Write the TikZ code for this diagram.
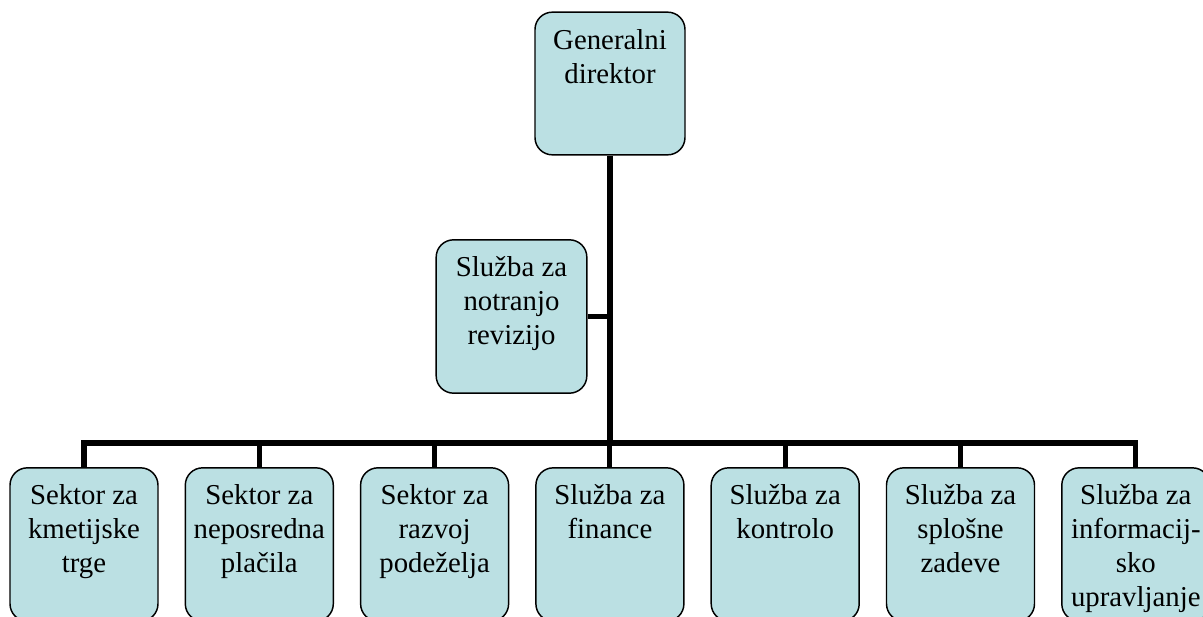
\documentclass[tikz,border=0pt]{standalone}
\usepackage{fontspec}
\setmainfont{LiberationSerif}[Extension=.ttf,UprightFont=*-Regular]
\definecolor{boxfill}{HTML}{BBE0E3}
\begin{document}
\begin{tikzpicture}[x=0.75pt,y=-0.75pt,
  unitbox/.style={draw=black,line width=1.1pt,fill=boxfill,rounded corners=13pt,
    minimum width=111pt,inner sep=0pt},
  unittext/.style={anchor=north,inner sep=0pt,align=center,
    font=\fontsize{21.6pt}{25.5pt}\selectfont},
  link/.style={line width=3.8pt,draw=black}]
\clip (0,0) rectangle (1203,617);
\useasboundingbox (0,0) rectangle (1203,617);

% director and internal audit
\node[unitbox,minimum width=112.5pt,minimum height=107pt] (gd) at (610,83.5) {};
\node[unittext] (gdt) at ([yshift=-13pt]gd.north) {Generalni\\direktor};
\node[unitbox,minimum width=113pt,minimum height=115pt] (nr) at (511.5,316.5) {};
\node[unittext] (nrt) at ([yshift=-13pt]nr.north) {Služba za\\notranjo\\revizijo};

% bottom row of sectors and services
\foreach \i/\txt in {0/{Sektor za\\kmetijske\\trge},
                     1/{Sektor za\\neposredna\\plačila},
                     2/{Sektor za\\razvoj\\podeželja},
                     3/{Služba za\\finance},
                     4/{Služba za\\kontrolo},
                     5/{Služba za\\splošne\\zadeve},
                     6/{Služba za\\informacij-\\sko\\upravljanje}}{
  \node[unitbox,minimum height=115pt] (s\i) at ({84+175.3*\i},544.5) {};
  \node[unittext] (s\i t) at ([yshift=-13pt]s\i.north) {\txt};
}

% connectors
\coordinate (bus) at (610,443);
\draw[link] (gd.south) -- (bus);
\draw[link] (nr.east) -- (nr.east -| bus);
\draw[link] (s0.north) |- (bus) -| (s6.north);
\foreach \i in {1,...,5}{
  \draw[link] (s\i.north) -- (s\i.north |- bus);
}
\end{tikzpicture}
\end{document}
